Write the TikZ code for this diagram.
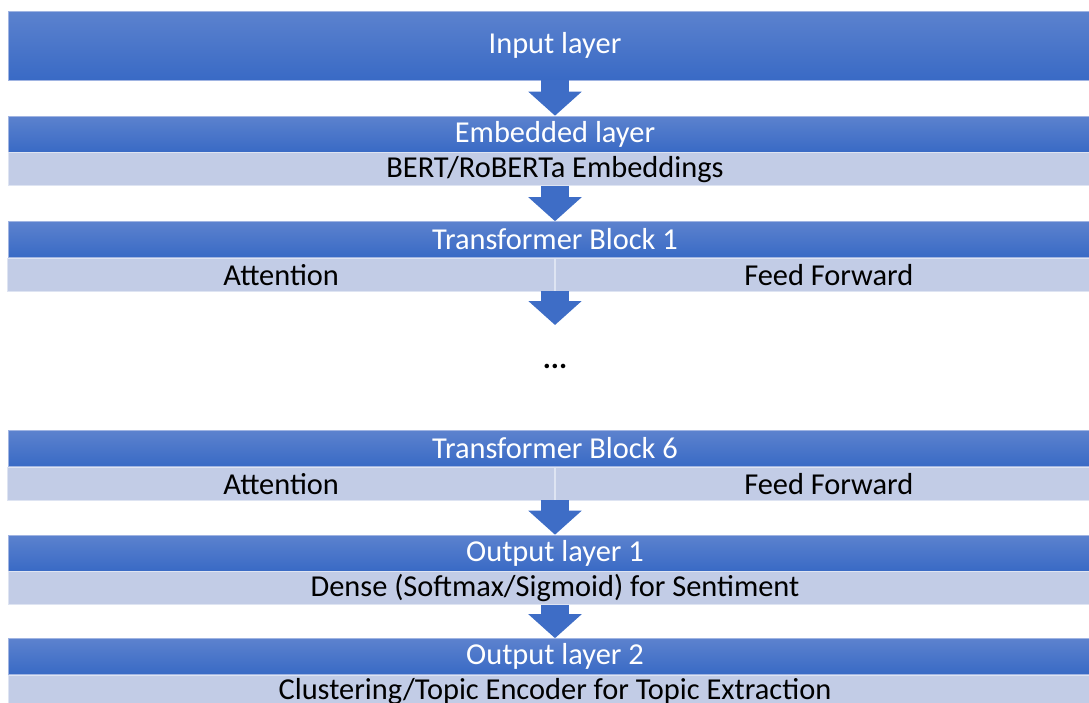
\documentclass[tikz,border=0pt]{standalone}
\usepackage{fontspec}
\setmainfont{Carlito}
\usetikzlibrary{positioning,arrows.meta}

\definecolor{topblue}{RGB}{92,130,206}
\definecolor{botblue}{RGB}{57,106,197}
\definecolor{edgeblue}{RGB}{160,180,226}
\definecolor{paleblue}{RGB}{194,204,230}
\definecolor{paleedge}{RGB}{222,228,242}
\definecolor{flowblue}{RGB}{62,109,198}

\tikzset{
  head/.style={rectangle, inner sep=0pt, minimum width=1094pt, minimum height=36pt,
    top color=topblue, bottom color=botblue, draw=edgeblue, line width=0.6pt,
    text=white, font=\fontsize{30.4}{32}\selectfont},
  sub/.style={rectangle, inner sep=0pt, minimum width=1094pt, minimum height=33pt,
    fill=paleblue, draw=paleedge, line width=0.6pt,
    text=black, font=\fontsize{30.4}{32}\selectfont},
  half/.style={sub, minimum width=547pt},
  flow/.style={draw=flowblue, line width=28pt, -{Triangle[width=52pt,length=24pt]}},
}

\begin{document}
\begin{tikzpicture}[x=1pt,y=-1pt]
\useasboundingbox (0,0) rectangle (1089,702);
\clip (0,0) rectangle (1089,702);

% input
\node[head, minimum height=69pt] (in) at (555,45.5) {Input layer};

% embeddings
\node[head] (emb) at (555,134) {Embedded layer};
\node[sub, below=0pt of emb] (embsub) {BERT/RoBERTa Embeddings};

% first transformer block
\node[head] (tbone) at (555,239.5) {Transformer Block 1};
\node[half, anchor=north east] (tbonea) at (tbone.south) {Attention};
\node[half, anchor=north west] (tboneb) at (tbone.south) {Feed Forward};

\coordinate (gap) at (555,325);
\node (dots) at (555,366) {\fontsize{30.4}{32}\selectfont\bfseries ...};

% last transformer block
\node[head] (tbsix) at (555,448.5) {Transformer Block 6};
\node[half, anchor=north east] (tbsixa) at (tbsix.south) {Attention};
\node[half, anchor=north west] (tbsixb) at (tbsix.south) {Feed Forward};

% outputs
\node[head] (outone) at (555,553) {Output layer 1};
\node[sub, below=0pt of outone] (outonesub) {Dense (Softmax/Sigmoid) for Sentiment};
\node[head] (outtwo) at (555,656.5) {Output layer 2};
\node[sub, below=0pt of outtwo] (outtwosub) {Clustering/Topic Encoder for Topic Extraction};

% arrows between layers
\draw[flow] (in.south) -- (emb.north);
\draw[flow] (embsub.south) -- (tbone.north);
\draw[flow] (tbonea.south east) -- (gap);
\draw[flow] (tbsixa.south east) -- (outone.north);
\draw[flow] (outonesub.south) -- (outtwo.north);
\end{tikzpicture}
\end{document}
